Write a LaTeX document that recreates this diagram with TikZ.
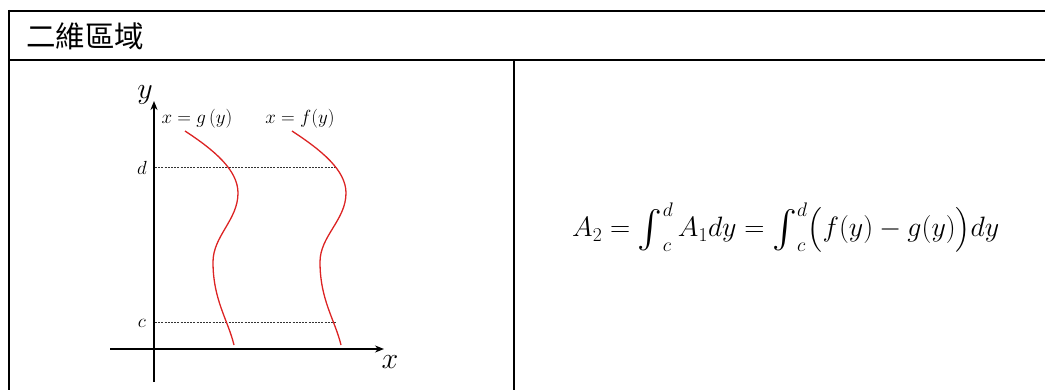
\RequirePackage{fix-cm}
\documentclass[tikz,border=0pt]{standalone}
\usepackage{amsmath}
\usepackage{graphicx}
\usepackage{fontspec}
\newfontfamily\cjk{Noto Sans CJK TC}
\usetikzlibrary{arrows.meta}
\definecolor{curvered}{RGB}{220,35,35}
\newcommand{\myint}{\mathop{\vcenter{\hbox{\scalebox{1.5}{$\int$}}}}\nolimits}
\tikzset{
  frame/.style={line width=2pt, black},
  axis/.style={line width=1.6pt, -{Stealth[length=9pt,width=7pt]}},
  guide/.style={line width=0.7pt, dash pattern=on 2pt off 1.2pt, black!80},
  curve/.style={line width=1.3pt, curvered},
  lbl/.style={inner sep=0pt, font=\fontsize{19}{21}\selectfont},
  biglbl/.style={inner sep=0pt, font=\fontsize{30}{32}\selectfont},
}
\begin{document}
\begin{tikzpicture}[x=1pt,y=-1pt]
\useasboundingbox (0,0) rectangle (1045,390);
% table frame
\draw[frame] (9,11) -- (1045,11);
\draw[frame] (9,60) -- (1045,60);
\draw[frame] (9,10) -- (9,390);
\draw[frame] (514,60) -- (514,390);
\node[anchor=west, inner sep=0pt, font=\cjk\fontsize{29.5}{32}\selectfont] (title) at (26,36) {二維區域};
% axes
\coordinate (ybot) at (154,382);
\coordinate (ytop) at (154,101);
\coordinate (xl) at (110,349);
\coordinate (xr) at (384,349);
\draw[axis] (ybot) -- (ytop);
\draw[axis] (xl) -- (xr);
\node[biglbl] (ylab) at (145,95) {$y$};
\node[biglbl] (xlab) at (390,362) {$x$};
\node[lbl] (dlab) at (142,168) {$d$};
\node[lbl] (clab) at (142,323) {$c$};
% guides
\coordinate (d0) at (155,167);
\coordinate (d1) at (336,167);
\coordinate (c0) at (155,322);
\coordinate (c1) at (336,322);
\draw[guide] (d0) -- (d1);
\draw[guide] (c0) -- (c1);
% curves
\draw[curve] (185,131) .. controls (214,150) and (238,170) .. (238,193)
  .. controls (238,220) and (213,236) .. (213,262)
  .. controls (213,300) and (228,320) .. (234,345);
\draw[curve] (292,131) .. controls (321,150) and (346,170) .. (346,193)
  .. controls (346,220) and (320,236) .. (320,262)
  .. controls (320,300) and (335,320) .. (341,345);
\node[lbl] (glab) at (197,119) {$x = g\,(y)$};
\node[lbl] (flab) at (300,119) {$x = f(y)$};
% formula
\node[anchor=base west, inner sep=0pt, font=\fontsize{28}{34}\selectfont] (formula) at (572,237)
  {$A_2 = \myint_c^d A_1 dy = \myint_c^d \bigl(f(y) - g(y)\bigr)dy$};
\end{tikzpicture}
\end{document}
